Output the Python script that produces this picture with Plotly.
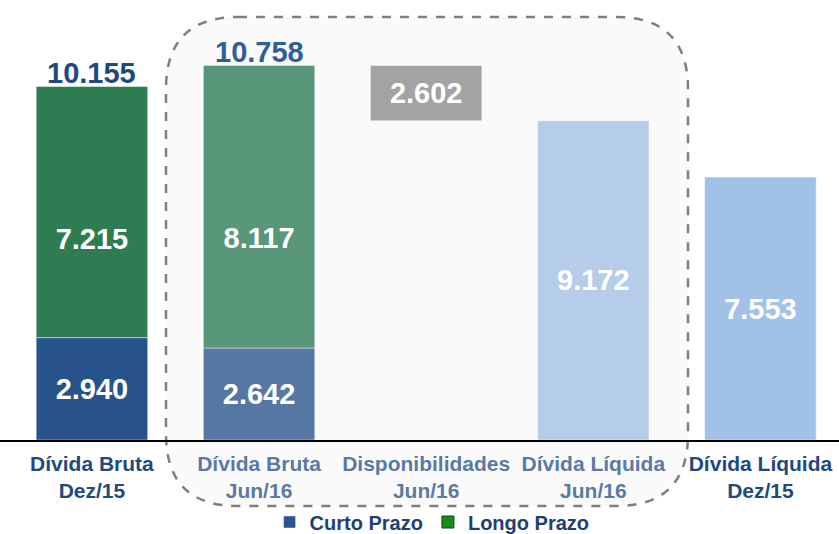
import plotly.graph_objects as go

# data
categories = ["Dívida Bruta<br>Dez/15", "Dívida Bruta<br>Jun/16", "Disponibilidades<br>Jun/16",
              "Dívida Líquida<br>Jun/16", "Dívida Líquida<br>Dez/15"]
curto_prazo = [2940, 2642]          # Dez/15, Jun/16
longo_prazo = [7215, 8117]
divida_bruta = [10155, 10758]
disponibilidades = 2602
divida_liquida = [9172, 7553]       # Jun/16, Dez/15

W, H = 839, 534
PLOT_H = 440
VAL_SIZE = 29


def fmt(v):
    return f"{v:,}".replace(",", ".")


def px(x, y):
    # pixel -> paper coords (plot area spans full width, top 440 px)
    return f"{x / W:.5f},{1 - y / PLOT_H:.5f}"


def colored(label, color):
    return "<br>".join(f"<span style='color:{color}'><b>{part}</b></span>" for part in label.split("<br>"))


x_idx = list(range(len(categories)))
outer = "#1f4a80"
inner = "#5a7aa5"
tick_colors = [outer, inner, inner, inner, outer]
ticktext = [colored(t, c) for t, c in zip(categories, tick_colors)]

fig = go.Figure()
edge = dict(color="rgba(255,255,255,0.45)", width=1)
val_font = dict(size=VAL_SIZE, color="white")

# curto prazo
fig.add_trace(go.Bar(
    x=x_idx[:2], y=curto_prazo, base=[0, 0],
    marker=dict(color=["#27528a", "#5677a3"], line=edge),
    text=[f"<b>{fmt(v)}</b>" for v in curto_prazo], textposition="inside",
    insidetextanchor="middle", textfont=val_font,
    showlegend=False, hoverinfo="skip"))
# longo prazo
fig.add_trace(go.Bar(
    x=x_idx[:2], y=longo_prazo, base=curto_prazo,
    marker=dict(color=["#2e7c52", "#58977a"], line=edge),
    showlegend=False, hoverinfo="skip"))
fig.add_trace(go.Scatter(
    x=x_idx[:2], y=[c + 0.38 * l for c, l in zip(curto_prazo, longo_prazo)],
    mode="text", text=[f"<b>{fmt(v)}</b>" for v in longo_prazo],
    textfont=val_font, showlegend=False, hoverinfo="skip"))
# disponibilidades (floating between liquida and bruta)
fig.add_trace(go.Bar(
    x=[x_idx[2]], y=[divida_bruta[1] - divida_liquida[0]], base=[divida_liquida[0]],
    marker=dict(color="#a3a3a3", line=edge),
    text=[f"<b>{fmt(disponibilidades)}</b>"], textposition="inside",
    insidetextanchor="middle", textfont=val_font,
    showlegend=False, hoverinfo="skip"))
# divida liquida
fig.add_trace(go.Bar(
    x=x_idx[3:], y=divida_liquida, base=[0, 0],
    marker=dict(color=["#b5cde9", "#a2c1e6"], line=edge),
    text=[f"<b>{fmt(v)}</b>" for v in divida_liquida], textposition="inside",
    insidetextanchor="middle", textfont=val_font,
    showlegend=False, hoverinfo="skip"))

# legend entries
fig.add_trace(go.Bar(x=[None], y=[None], name="Curto Prazo", marker_color="#2b5591"))
fig.add_trace(go.Bar(x=[None], y=[None], name="Longo Prazo", marker_color="#1a8a1a",
                     marker_line=dict(color="#0d4d0d", width=1)))

# totals above bars
for i, (v, c) in enumerate(zip(divida_bruta, ["#1f4a80", "#2e5f98"])):
    fig.add_annotation(x=x_idx[i], y=v, text=f"<b>{fmt(v)}</b>", showarrow=False,
                       yanchor="bottom", yshift=-4, font=dict(size=VAL_SIZE, color=c))

# dashed rounded box around the Jun/16 group
x0, x1, y0, y1, r = 166, 688, 17, 506, 72
path = (f"M {px(x0 + r, y0)} L {px(x1 - r, y0)} Q {px(x1, y0)} {px(x1, y0 + r)} "
        f"L {px(x1, y1 - r)} Q {px(x1, y1)} {px(x1 - r, y1)} "
        f"L {px(x0 + r, y1)} Q {px(x0, y1)} {px(x0, y1 - r)} "
        f"L {px(x0, y0 + r)} Q {px(x0, y0)} {px(x0 + r, y0)} Z")
fig.add_shape(type="path", path=path, xref="paper", yref="paper", layer="below",
              fillcolor="#fafafa", line=dict(color="#7f7f7f", width=2.5, dash="dash"))

fig.update_layout(
    width=W, height=H,
    margin=dict(l=0, r=0, t=0, b=H - PLOT_H, autoexpand=False),
    barmode="overlay", bargap=0.333,
    paper_bgcolor="white", plot_bgcolor="white",
    font=dict(family="Liberation Sans, Arial, sans-serif"),
    showlegend=True,
    legend=dict(orientation="h", x=0.515, xanchor="center", y=1 - 522 / PLOT_H, yanchor="middle",
                font=dict(size=20, color="#1f3f73", weight="bold"),
                itemwidth=30, tracegroupgap=0, bgcolor="rgba(0,0,0,0)"),
    xaxis=dict(range=[-0.55, 4.47], tickvals=x_idx, ticktext=ticktext, automargin=False,
               tickfont=dict(size=21), showline=True, linecolor="black", linewidth=1.5,
               showgrid=False, zeroline=False, ticks="outside", ticklen=4,
               tickcolor="rgba(0,0,0,0)"),
    yaxis=dict(range=[0, 12640], visible=False, showgrid=False, zeroline=False,
               automargin=False),
)

fig.write_html("out.html", config={"displayModeBar": False},
               post_script="document.body.style.margin='0';")
